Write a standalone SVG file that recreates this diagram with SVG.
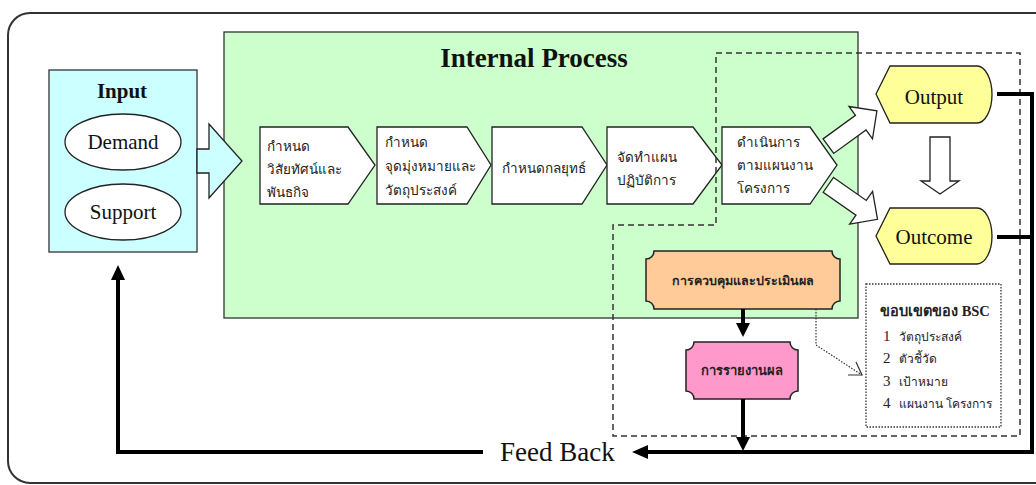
<svg xmlns="http://www.w3.org/2000/svg" width="1036" height="485" viewBox="0 0 1036 485">
<style>
.lat{font-family:"Liberation Serif","Times New Roman",serif;fill:#111}
.th{font-family:"Liberation Serif","DejaVu Serif",serif;fill:#222;font-size:13.5px}
.thi{font-family:"Liberation Serif","DejaVu Serif",serif;fill:#222;font-size:12px}
.num{font-family:"Liberation Serif","Times New Roman",serif;fill:#222;font-size:15px}
.thb{font-family:"Liberation Serif","DejaVu Serif",serif;fill:#222;font-size:12.5px;font-weight:bold}
.chev{fill:#fff;stroke:#222;stroke-width:1.3}
.thick{fill:none;stroke:#000;stroke-width:4}
.blk{fill:#000}
.hollow{fill:#fff;stroke:#222;stroke-width:1.3}
</style>
<rect width="1036" height="485" fill="#fff"/>
<rect x="8" y="13" width="1060" height="470" rx="22" ry="22" fill="#fff" stroke="#333" stroke-width="2"/>

<g id="internal-process">
<rect x="224" y="32" width="634" height="286" fill="#CCFFCC" stroke="#333" stroke-width="1.3"/>
<text class="lat" x="534" y="67" font-size="27" font-weight="bold" text-anchor="middle">Internal Process</text>
</g>

<g id="input">
<rect x="49" y="70" width="148" height="182" fill="#CCFFFF" stroke="#333" stroke-width="1.3"/>
<text class="lat" x="122" y="98" font-size="21" font-weight="bold" text-anchor="middle">Input</text>
<ellipse cx="123" cy="142" rx="58" ry="28" fill="#fff" stroke="#222" stroke-width="1.3"/>
<text class="lat" x="123" y="149" font-size="21" text-anchor="middle">Demand</text>
<ellipse cx="123" cy="212" rx="58" ry="28" fill="#fff" stroke="#222" stroke-width="1.3"/>
<text class="lat" x="123" y="219" font-size="21" text-anchor="middle">Support</text>
</g>

<g id="input-arrow">
<polygon points="197,149 209,149 209,124 242,161 209,198 209,173 197,173" fill="#CCFFFF" stroke="#222" stroke-width="1.3"/>
</g>

<g id="step1">
<polygon class="chev" points="260,127 348,127 375,165 348,204 260,204"/>
<text class="th" x="267" y="151">กำหนด</text>
<text class="th" x="267" y="174">วิสัยทัศน์และ</text>
<text class="th" x="267" y="197">พันธกิจ</text>
</g>
<g id="step2">
<polygon class="chev" points="377,127 467,127 491,165 467,204 377,204"/>
<text class="th" x="385" y="147">กำหนด</text>
<text class="th" x="385" y="171">จุดมุ่งหมายและ</text>
<text class="th" x="385" y="195">วัตถุประสงค์</text>
</g>
<g id="step3">
<polygon class="chev" points="492,127 582,127 607,165 582,204 492,204"/>
<text class="th" x="502" y="173">กำหนดกลยุทธ์</text>
</g>
<g id="step4">
<polygon class="chev" points="607,127 693,127 722,165 693,204 607,204"/>
<text class="th" x="617" y="162">จัดทำแผน</text>
<text class="th" x="617" y="185">ปฏิบัติการ</text>
</g>
<g id="step5">
<polygon class="chev" points="722,127 810,127 837,165 810,204 722,204"/>
<text class="th" x="737" y="147">ดำเนินการ</text>
<text class="th" x="737" y="170">ตามแผนงาน</text>
<text class="th" x="737" y="193">โครงการ</text>
</g>

<g id="bsc-scope-boundary">
<polygon points="716,53 1020,53 1020,436 613,436 613,225 716,225" fill="none" stroke="#333" stroke-width="1.5" stroke-dasharray="6,4"/>
</g>

<g id="output">
<path d="M876,94 L890,66 H977 A15 28.5 0 0 1 977,123 H890 Z" fill="#FFFF99" stroke="#222" stroke-width="1.3"/>
<text class="lat" x="934" y="104" font-size="21" text-anchor="middle">Output</text>
</g>
<g id="outcome">
<path d="M876,236 L890,208 H977 A15 28 0 0 1 977,264 H890 Z" fill="#FFFF99" stroke="#222" stroke-width="1.3"/>
<text class="lat" x="934" y="244" font-size="21" text-anchor="middle">Outcome</text>
</g>

<g id="control">
<path d="M654,251 H832 A8 8 0 0 0 840,259 V301 A8 8 0 0 0 832,309 H654 A8 8 0 0 0 646,301 V259 A8 8 0 0 0 654,251 Z" fill="#FFCC99" stroke="#222" stroke-width="1.5"/>
<text class="thb" x="743" y="285" text-anchor="middle">การควบคุมและประเมินผล</text>
</g>
<g id="report">
<path d="M694,342 H790 A8 8 0 0 0 798,350 V391 A8 8 0 0 0 790,399 H694 A8 8 0 0 0 686,391 V350 A8 8 0 0 0 694,342 Z" fill="#FF99CC" stroke="#222" stroke-width="1.5"/>
<text class="thb" x="742" y="375" text-anchor="middle" style="font-size:13px">การรายงานผล</text>
</g>

<g id="bsc-box">
<rect x="866" y="284" width="135" height="143" fill="#fff" stroke="#333" stroke-width="1.3" stroke-dasharray="1.5,1.5"/>
<text class="thb" x="880" y="316" style="font-size:14.5px">ขอบเขตของ BSC</text>
<text class="num" x="883" y="341">1</text><text class="thi" x="899" y="341">วัตถุประสงค์</text>
<text class="num" x="883" y="363">2</text><text class="thi" x="899" y="363">ตัวชี้วัด</text>
<text class="num" x="883" y="386">3</text><text class="thi" x="899" y="386">เป้าหมาย</text>
<text class="num" x="883" y="408">4</text><text class="thi" x="899" y="408">แผนงาน โครงการ</text>
</g>

<g id="feedback-label">
<text class="lat" x="500" y="461" font-size="27">Feed Back</text>
</g>

<g id="connectors">
<polygon class="hollow" points="-2,-9 38,-9 38,-20 58,0 38,20 38,9 -2,9" transform="translate(830,145) rotate(-36)"/>
<polygon class="hollow" points="-2,-9 38,-9 38,-20 58,0 38,20 38,9 -2,9" transform="translate(830,186) rotate(35)"/>
<polygon class="hollow" points="930,137 950,137 950,181 959,181 940,194 921,181 930,181"/>
<path class="thick" d="M997,94 H1032 V452 H646"/>
<polygon class="blk" points="632,452 648,445 648,459"/>
<path class="thick" d="M997,237 H1032"/>
<path class="thick" d="M483,452 H118 V278"/>
<polygon class="blk" points="118,265 111,280 125,280"/>
<path class="thick" d="M743,309 V325"/>
<polygon class="blk" points="736,323 750,323 743,337"/>
<path class="thick" d="M743,399 V439"/>
<polygon class="blk" points="736,437 750,437 743,451"/>
<path d="M816,309 V345 L862,375" fill="none" stroke="#333" stroke-width="1.2" stroke-dasharray="1.5,1.5"/>
<polyline points="848,375 862,375 856,362" fill="none" stroke="#333" stroke-width="1.2"/>
</g>
</svg>
